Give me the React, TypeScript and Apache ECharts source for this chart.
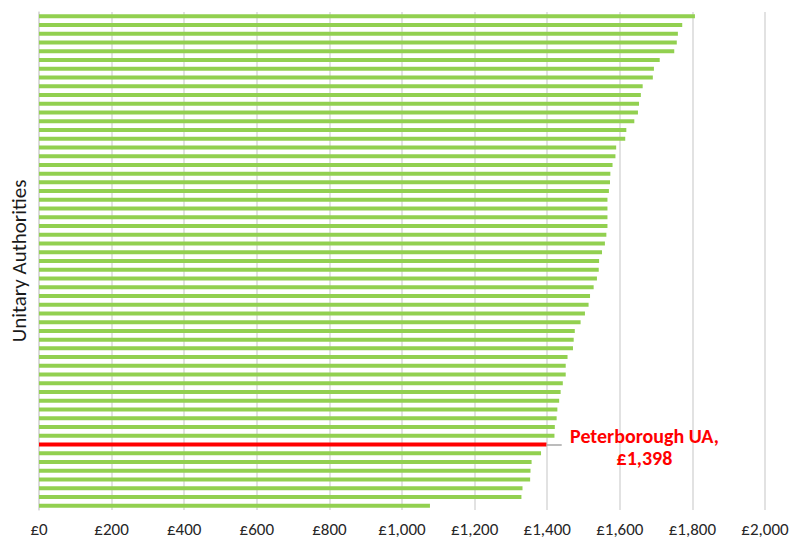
import React, { useEffect, useRef } from "react";
import * as echarts from "echarts";

// Band D council tax per unitary authority, highest first
const values: number[] = [
  1807, 1772, 1760, 1757, 1750, 1710, 1694, 1691, 1663, 1658,
  1653, 1650, 1640, 1618, 1615, 1590, 1588, 1580, 1574, 1573,
  1570, 1566, 1566, 1566, 1566, 1563, 1559, 1551, 1543, 1542,
  1537, 1528, 1518, 1514, 1504, 1492, 1476, 1473, 1471, 1456,
  1451, 1451, 1443, 1437, 1433, 1428, 1426, 1421, 1420, 1398,
  1383, 1357, 1354, 1353, 1332, 1329, 1077,
];

const highlightName = "Peterborough UA";
const highlightIndex = 49;
// Length of the leader line, in £ along the value axis
const leaderLength = 42;

const categories: string[] = values.map((_, i) =>
  i === highlightIndex ? highlightName : `Authority ${i + 1}`
);

const xTicks: number[] = [0, 200, 400, 600, 800, 1000, 1200, 1400, 1600, 1800, 2000];

const GREEN = "#92d050";
const RED = "#ff0000";
const FONT = "Carlito, Calibri, Lato, 'Liberation Sans', Arial, sans-serif";

const fmt = (v: number) => "£" + v.toLocaleString("en-GB");

export default function App() {
  const ref = useRef<HTMLDivElement>(null);

  useEffect(() => {
    if (!ref.current) return;
    const chart = echarts.init(ref.current, undefined, { renderer: "svg" });

    const hv = values[highlightIndex];
    const data = values.map((v, i) => {
      if (i !== highlightIndex) return { value: v, itemStyle: { color: GREEN } };
      return {
        value: v,
        itemStyle: { color: RED },
        label: {
          show: true,
          position: "right",
          distance: 17,
          offset: [0, 3],
          formatter: `{a|${highlightName},}\n{a|${fmt(v)}}`,
          rich: {
            a: {
              color: RED,
              fontWeight: "bold",
              fontSize: 20,
              fontFamily: FONT,
              width: 162,
              align: "center",
              lineHeight: 22,
            },
          },
        },
      };
    });

    chart.setOption({
      animation: false,
      grid: { left: 37, right: 38, top: 12, bottom: 32, containLabel: false },
      xAxis: {
        type: "value",
        min: xTicks[0],
        max: xTicks[xTicks.length - 1],
        interval: 200,
        axisLine: { show: false },
        axisTick: { show: false },
        splitLine: { show: true, lineStyle: { color: "#d9d9d9", width: 1.5 } },
        axisLabel: {
          margin: 11,
          color: "#262626",
          fontSize: 17,
          fontFamily: FONT,
          formatter: (v: number) => fmt(v),
        },
      },
      yAxis: {
        type: "category",
        inverse: true,
        data: categories,
        name: "Unitary Authorities",
        nameLocation: "middle",
        nameGap: 10,
        nameRotate: 90,
        nameTextStyle: { color: "#1a1a1a", fontSize: 21, fontFamily: FONT },
        axisLine: { show: true, lineStyle: { color: "#d9d9d9", width: 1.5 } },
        axisTick: { show: false },
        axisLabel: { show: false },
      },
      series: [
        {
          type: "bar",
          data,
          barWidth: 4,
          markLine: {
            silent: true,
            symbol: "none",
            label: { show: false },
            lineStyle: { color: "#a6a6a6", width: 1.5, type: "solid" },
            data: [
              [
                { coord: [hv, highlightName] },
                { coord: [hv + leaderLength, highlightName] },
              ],
            ],
          },
        },
      ],
    });

    return () => chart.dispose();
  }, []);

  return <div ref={ref} style={{ width: 803, height: 542, position: "absolute", left: 0, top: 0 }} />;
}
